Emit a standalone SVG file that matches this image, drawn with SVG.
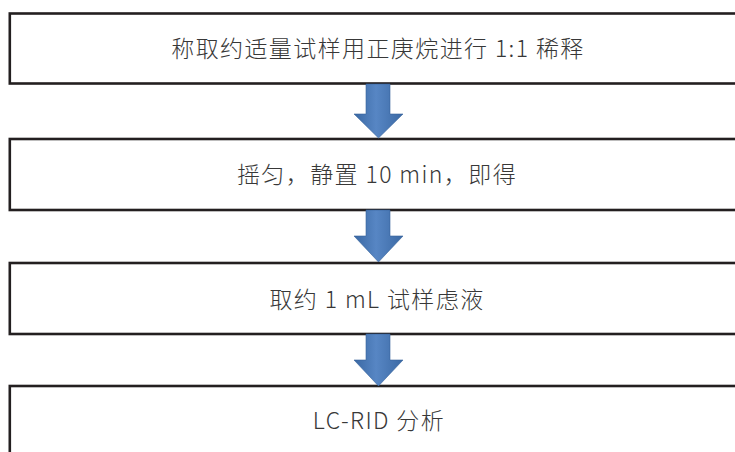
<svg xmlns="http://www.w3.org/2000/svg" width="735" height="452" viewBox="0 0 735 452">
<style>
.box{fill:#fff;stroke:#231f20;stroke-width:2.6}
.lbl{font-family:"Noto Sans CJK SC","Noto Sans",sans-serif;font-size:23px;font-weight:300;letter-spacing:1.4px;fill:#383838;text-anchor:middle}
.arr{fill:url(#g);stroke:#36639c;stroke-width:0.6}
</style>
<defs>
<linearGradient id="g" x1="0" y1="0" x2="1" y2="0">
<stop offset="0" stop-color="#3a68a3"/>
<stop offset="0.45" stop-color="#5786c4"/>
<stop offset="1" stop-color="#3b69a4"/>
</linearGradient>
</defs>
<rect width="735" height="452" fill="#fff"/>
<g id="n1"><rect class="box" x="9.8" y="13.5" width="740" height="70"/><text class="lbl" x="378" y="57">称取约适量试样用正庚烷进行 1:1 稀释</text></g>
<g id="n2"><rect class="box" x="9.8" y="139" width="740" height="71"/><text class="lbl" x="377" y="183">摇匀，静置 10 min，即得</text></g>
<g id="n3"><rect class="box" x="9.8" y="263" width="740" height="71"/><text class="lbl" x="377" y="308">取约 1 mL 试样虑液</text></g>
<g id="n4"><rect class="box" x="9.8" y="386" width="740" height="80"/><text class="lbl" x="379" y="429">LC-RID 分析</text></g>
<g id="connectors">
<polygon class="arr" points="366,84 390,84 390,114 403,114 378.5,138 354,114 366,114"/>
<polygon class="arr" points="366,210 390,210 390,236 403,236 378.5,262 354,236 366,236"/>
<polygon class="arr" points="366,334 390,334 390,360 403,360 378.5,386 354,360 366,360"/>
</g>
</svg>
